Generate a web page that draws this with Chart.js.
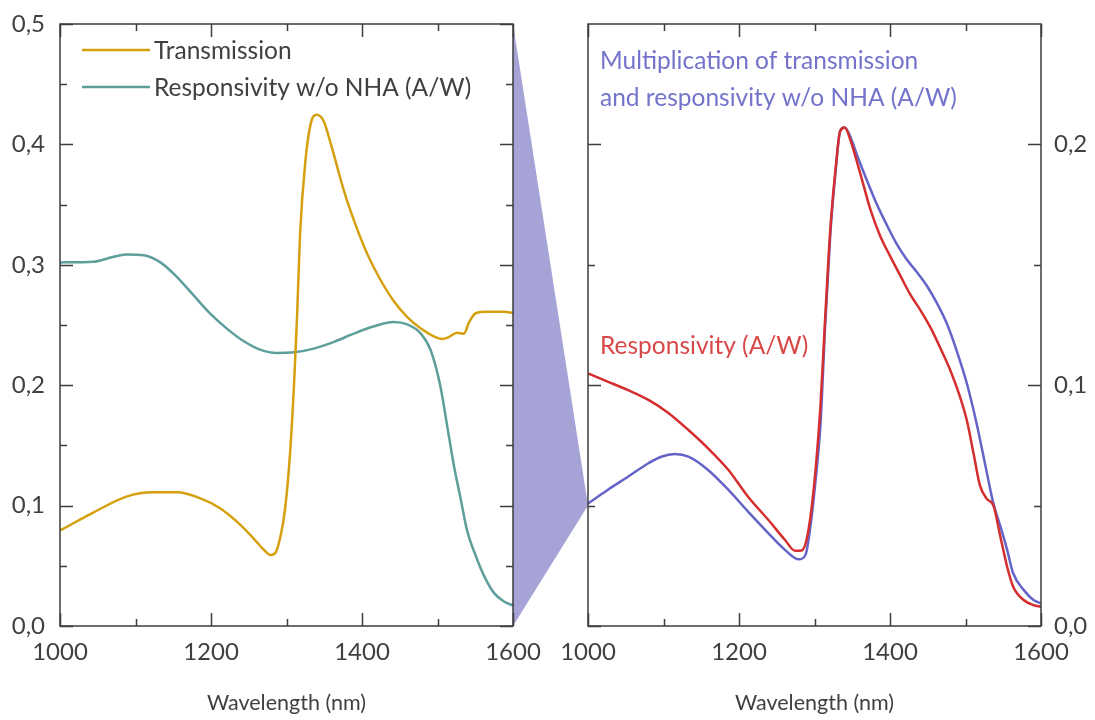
<!DOCTYPE html>
<html>
<head>
<meta charset="utf-8">
<script src="https://cdn.jsdelivr.net/npm/chart.js@4.4.0/dist/chart.umd.min.js"></script>
<style>
  body { margin: 0; background: #fff; }
  #wrap { position: relative; width: 1095px; height: 720px; }
  #wrap canvas { position: absolute; top: 0; }
</style>
</head>
<body>
<div id="wrap">
  <canvas id="band" width="1095" height="720" style="left:0"></canvas>
  <canvas id="left" width="550" height="720" style="left:0"></canvas>
  <canvas id="right" width="545" height="720" style="left:550px"></canvas>
</div>
<script>
// Transmission of the NHA (left panel)
const transWl = [1000, 1044, 1088, 1124, 1155, 1186, 1212, 1239, 1256, 1270, 1279, 1285, 1292, 1298, 1305, 1310, 1314, 1318, 1325, 1332, 1340, 1349, 1360, 1376, 1391, 1407, 1424, 1442, 1460, 1478, 1495, 1506, 1515, 1526, 1535, 1542, 1551, 1566, 1588, 1600];
const transVal = [0.0793, 0.0942, 0.1075, 0.111, 0.111, 0.106, 0.0978, 0.084, 0.073, 0.0633, 0.059, 0.0605, 0.0743, 0.0964, 0.146, 0.201, 0.257, 0.326, 0.386, 0.417, 0.4246, 0.4196, 0.3975, 0.3616, 0.334, 0.309, 0.288, 0.270, 0.2566, 0.247, 0.2406, 0.2384, 0.240, 0.2436, 0.2428, 0.2525, 0.260, 0.261, 0.261, 0.260];

// Responsivity without NHA, A/W (left panel)
const bareWl = [1000, 1044, 1066, 1088, 1111, 1133, 1155, 1177, 1199, 1221, 1243, 1265, 1287, 1310, 1336, 1363, 1389, 1416, 1442, 1460, 1478, 1491, 1504, 1513, 1522, 1531, 1539, 1551, 1562, 1575, 1588, 1600];
const bareVal = [0.302, 0.3025, 0.3058, 0.3086, 0.308, 0.302, 0.2898, 0.2746, 0.2594, 0.247, 0.2367, 0.2296, 0.2268, 0.2273, 0.2304, 0.236, 0.2428, 0.2489, 0.2525, 0.2505, 0.2428, 0.229, 0.1986, 0.1655, 0.1323, 0.1047, 0.0798, 0.0577, 0.0412, 0.0273, 0.0204, 0.0171];

// Measured responsivity, A/W (right panel)
const respWl = [1000, 1026, 1053, 1080, 1106, 1133, 1159, 1186, 1212, 1239, 1261, 1274, 1283, 1290, 1299, 1308, 1314, 1321, 1328, 1334, 1340, 1348, 1356, 1365, 1374, 1387, 1400, 1414, 1427, 1440, 1453, 1466, 1480, 1493, 1502, 1511, 1519, 1528, 1537, 1546, 1555, 1563, 1577, 1590, 1600];
const respVal = [0.1049, 0.1015, 0.098, 0.0939, 0.0886, 0.0814, 0.0738, 0.0648, 0.0537, 0.044, 0.0357, 0.0313, 0.0314, 0.0365, 0.057, 0.092, 0.127, 0.165, 0.190, 0.2056, 0.207, 0.2014, 0.193, 0.183, 0.173, 0.162, 0.1537, 0.1453, 0.1376, 0.1313, 0.1243, 0.1159, 0.1061, 0.0949, 0.0851, 0.0711, 0.0585, 0.0529, 0.050, 0.0374, 0.0248, 0.0164, 0.0108, 0.0087, 0.008];

// Transmission x responsivity w/o NHA, A/W (right panel)
const prodWl = [1000, 1026, 1053, 1080, 1097, 1115, 1133, 1159, 1186, 1212, 1239, 1261, 1279, 1288, 1294, 1301, 1308, 1314, 1321, 1328, 1334, 1340, 1348, 1356, 1370, 1383, 1396, 1409, 1422, 1436, 1449, 1462, 1475, 1488, 1502, 1515, 1528, 1537, 1546, 1555, 1563, 1577, 1590, 1600];
const prodVal = [0.0509, 0.0565, 0.062, 0.0676, 0.0703, 0.0714, 0.0703, 0.0648, 0.0565, 0.0475, 0.0385, 0.0316, 0.0277, 0.0295, 0.0399, 0.0592, 0.0842, 0.124, 0.163, 0.189, 0.2056, 0.207, 0.2028, 0.1958, 0.1846, 0.1748, 0.1664, 0.1586, 0.1523, 0.1468, 0.1412, 0.1342, 0.1258, 0.1146, 0.1005, 0.0837, 0.0641, 0.0508, 0.0416, 0.0318, 0.022, 0.015, 0.0108, 0.0094];

// axis ticks
const xMajor = [1000, 1200, 1400, 1600];
const xMinor = [1100, 1300, 1500];
const leftYMajor = [0, 0.1, 0.2, 0.3, 0.4, 0.5];
const leftYMinor = [0.05, 0.15, 0.25, 0.35, 0.45];
const rightYMajor = [0, 0.1, 0.2];
const rightYMinor = [0.05, 0.15];

// the right panel is a zoom into this point of its own axes
const zoomAnchor = [1000, 0.05];

const INK = '#3d3d3d';
const FONT = 'Lato, "Open Sans", sans-serif';
const GOLD = '#d5a00f', TEAL = '#5e9e9b', RED = '#d42e2e', BLUE = '#6464c8';

const toPts = (xs, ys) => xs.map((x, i) => ({ x, y: ys[i] }));
const fmt = v => v.toFixed(1).replace('.', ',');

// box around the plot area with inward major/minor tick marks on all sides
const frameTicks = {
  id: 'frameTicks',
  afterDraw(chart, args, o) {
    const { ctx, chartArea: a, scales: { x, y } } = chart;
    ctx.save();
    ctx.strokeStyle = INK;
    ctx.lineWidth = 1.5;
    ctx.strokeRect(a.left, a.top, a.right - a.left, a.bottom - a.top);
    ctx.beginPath();
    const xt = (vals, len) => vals.forEach(v => {
      const p = Math.round(x.getPixelForValue(v)) + 0.5;
      ctx.moveTo(p, a.bottom); ctx.lineTo(p, a.bottom - len);
      ctx.moveTo(p, a.top); ctx.lineTo(p, a.top + len);
    });
    const yt = (vals, len) => vals.forEach(v => {
      const p = Math.round(y.getPixelForValue(v)) + 0.5;
      ctx.moveTo(a.left, p); ctx.lineTo(a.left + len, p);
      ctx.moveTo(a.right, p); ctx.lineTo(a.right - len, p);
    });
    xt(o.xMajor, 13); xt(o.xMinor, 7);
    yt(o.yMajor, 13); yt(o.yMinor, 7);
    ctx.stroke();
    ctx.restore();
  }
};

// legend / annotation text placed inside the plot area
const inPlotText = {
  id: 'inPlotText',
  afterDraw(chart, args, o) {
    const { ctx, chartArea: a } = chart;
    ctx.save();
    ctx.font = '24.5px ' + FONT;
    ctx.textBaseline = 'middle';
    (o.items || []).forEach(it => {
      if (it.swatch) {
        ctx.strokeStyle = it.swatch;
        ctx.lineWidth = 2.5;
        ctx.beginPath();
        ctx.moveTo(a.left + 22, a.top + it.dy - 1);
        ctx.lineTo(a.left + 90, a.top + it.dy - 1);
        ctx.stroke();
      }
      ctx.fillStyle = it.color;
      ctx.fillText(it.text, a.left + it.dx, a.top + it.dy);
    });
    ctx.restore();
  }
};

// keep label overflow from pushing the plot area around; layout padding sets it
const noOverflow = s => { s.paddingLeft = s.paddingRight = s.paddingTop = s.paddingBottom = 0; };

function xScale() {
  return {
    type: 'linear', min: 1000, max: 1600,
    afterBuildTicks: s => { s.ticks = xMajor.map(v => ({ value: v })); },
    ticks: { font: { family: FONT, size: 24 }, color: '#404040', padding: 12, maxRotation: 0, callback: v => String(v) },
    grid: { display: false, drawTicks: false },
    border: { display: false },
    title: { display: true, text: 'Wavelength (nm)', font: { family: FONT, size: 21.5 }, color: '#404040', padding: { top: 0, bottom: 4 } },
    afterFit: s => { s.height = 94; noOverflow(s); }
  };
}

const lineStyle = { borderWidth: 2.5, pointRadius: 0, pointHoverRadius: 0, cubicInterpolationMode: 'monotone', fill: false };

function build() {
  const leftChart = new Chart(document.getElementById('left'), {
    type: 'line',
    data: {
      datasets: [
        { label: 'Transmission', data: toPts(transWl, transVal), borderColor: GOLD, ...lineStyle },
        { label: 'Responsivity w/o NHA (A/W)', data: toPts(bareWl, bareVal), borderColor: TEAL, ...lineStyle }
      ]
    },
    options: {
      responsive: false, animation: false, events: [],
      layout: { autoPadding: false, padding: { top: 24, right: 37, left: 0, bottom: 0 } },
      plugins: {
        legend: { display: false }, tooltip: { enabled: false },
        frameTicks: { xMajor, xMinor, yMajor: leftYMajor, yMinor: leftYMinor },
        inPlotText: {
          items: [
            { text: 'Transmission', color: '#404040', swatch: GOLD, dx: 94, dy: 27 },
            { text: 'Responsivity w/o NHA (A/W)', color: '#404040', swatch: TEAL, dx: 94, dy: 64 }
          ]
        }
      },
      scales: {
        x: xScale(),
        y: {
          min: 0, max: 0.5,
          afterBuildTicks: s => { s.ticks = leftYMajor.map(v => ({ value: v })); },
          ticks: { font: { family: FONT, size: 24 }, color: '#404040', padding: 15, callback: fmt },
          grid: { display: false, drawTicks: false },
          border: { display: false },
          afterFit: s => { s.width = 60; noOverflow(s); }
        }
      }
    },
    plugins: [frameTicks, inPlotText]
  });

  const rightChart = new Chart(document.getElementById('right'), {
    type: 'line',
    data: {
      datasets: [
        { label: 'Responsivity (A/W)', data: toPts(respWl, respVal), borderColor: RED, ...lineStyle },
        { label: 'Multiplication of transmission and responsivity w/o NHA (A/W)', data: toPts(prodWl, prodVal), borderColor: BLUE, ...lineStyle }
      ]
    },
    options: {
      responsive: false, animation: false, events: [],
      layout: { autoPadding: false, padding: { top: 24, right: 0, left: 38, bottom: 0 } },
      plugins: {
        legend: { display: false }, tooltip: { enabled: false },
        frameTicks: { xMajor, xMinor, yMajor: rightYMajor, yMinor: rightYMinor },
        inPlotText: {
          items: [
            { text: 'Multiplication of transmission', color: '#7373cc', dx: 12, dy: 37 },
            { text: 'and responsivity w/o NHA (A/W)', color: '#7373cc', dx: 12, dy: 74 },
            { text: 'Responsivity (A/W)', color: '#d84848', dx: 12, dy: 322 }
          ]
        }
      },
      scales: {
        x: xScale(),
        y: {
          position: 'right', min: 0, max: 0.25,
          afterBuildTicks: s => { s.ticks = rightYMajor.map(v => ({ value: v })); },
          ticks: { font: { family: FONT, size: 24 }, color: '#404040', padding: 13, callback: fmt },
          grid: { display: false, drawTicks: false },
          border: { display: false },
          afterFit: s => { s.width = 54; noOverflow(s); }
        }
      }
    },
    plugins: [frameTicks, inPlotText]
  });

  // zoom band: left panel's right edge fans into the anchor point of the right panel
  const band = document.getElementById('band').getContext('2d');
  const la = leftChart.chartArea;
  const off = document.getElementById('right').offsetLeft;
  const ax = off + rightChart.scales.x.getPixelForValue(zoomAnchor[0]);
  const ay = rightChart.scales.y.getPixelForValue(zoomAnchor[1]);
  band.fillStyle = '#a6a4d6';
  band.beginPath();
  band.moveTo(la.right, la.top);
  band.lineTo(ax, ay);
  band.lineTo(la.right, la.bottom);
  band.closePath();
  band.fill();
}

document.fonts.load('24px Lato').then(build, build);
</script>
</body>
</html>
